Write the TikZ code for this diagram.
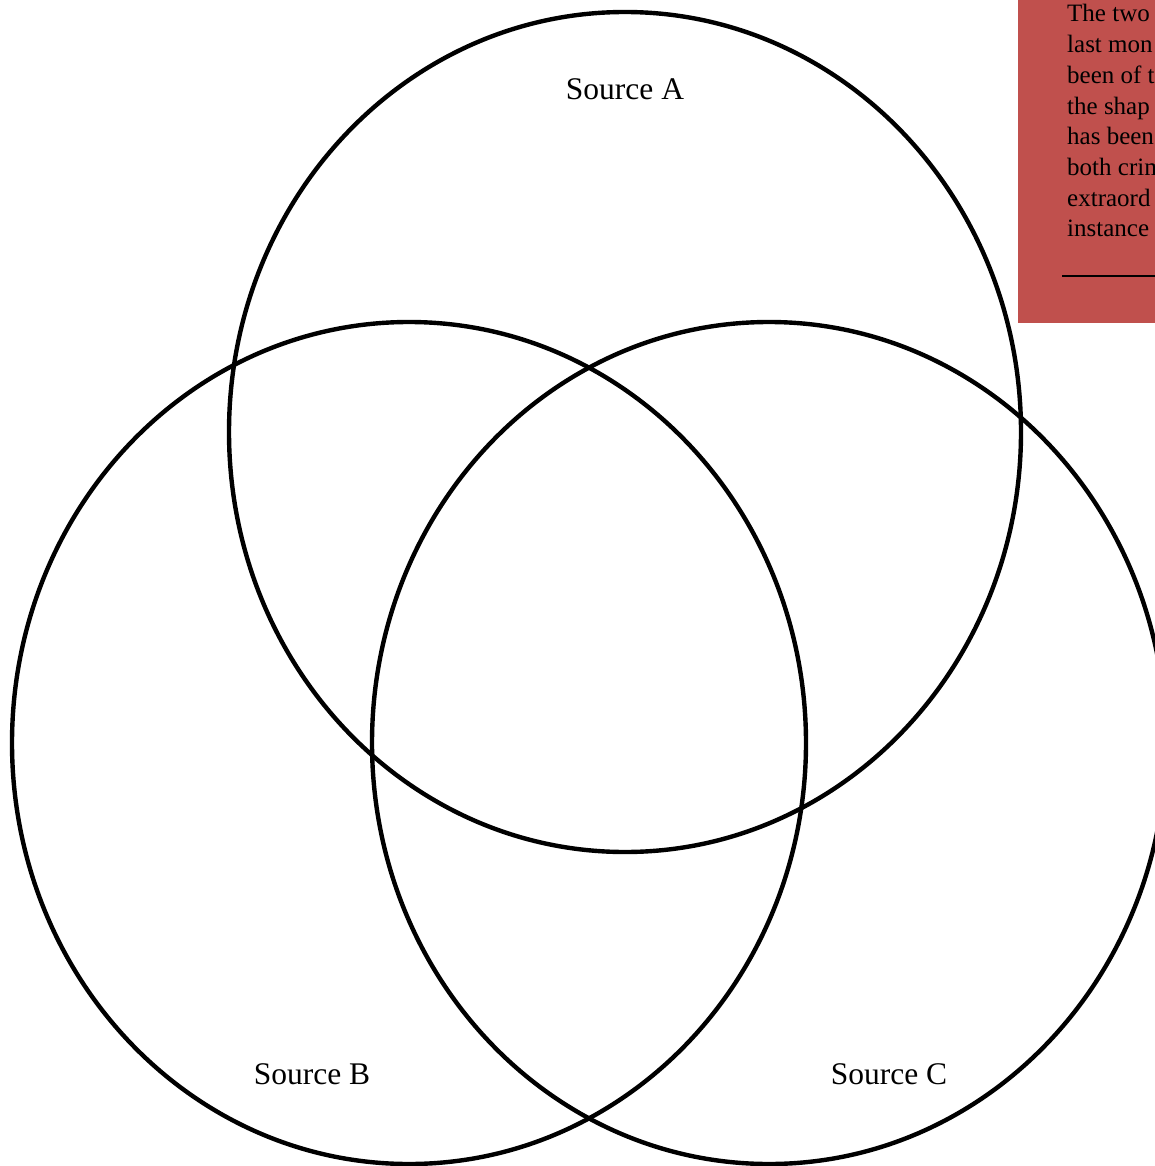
\documentclass[tikz,border=0pt]{standalone}
\usepackage{fontspec}
\setmainfont{Liberation Serif}
\usetikzlibrary{positioning}
\definecolor{boxred}{RGB}{192,80,77}

\begin{document}
\begin{tikzpicture}[x=1pt,y=-1pt,
  ring/.style={line width=4.4pt},
  srclabel/.style={anchor=base,inner sep=0,font=\fontsize{31.5}{36}\selectfont},
  boxline/.style={anchor=base west,inner sep=0,font=\fontsize{25}{30}\selectfont}]
\clip (0,0) rectangle (1155,1166);
% note box, cut off at the right edge
\fill[boxred] (1018,-5) rectangle (1170,323);
\foreach \txt [count=\i] in {The two,last mon,been of t,the shap,has been,both crim,extraord,instance}
  \node[boxline] (line\i) at (1067,{22+30.7*(\i-1)}) {\txt};
\coordinate (ruleL) at (1062,276);
\coordinate (ruleR) at (1170,276);
\draw[line width=1.5pt] (ruleL) -- (ruleR);
% the three sources
\draw[ring] (625,432) ellipse [x radius=396,y radius=420];
\draw[ring] (409,743) ellipse [x radius=397,y radius=421];
\draw[ring] (769,743) ellipse [x radius=397,y radius=421];
\node[srclabel] (srcA) at (625,100) {Source A};
\node[srclabel] (srcB) at (312,1084) {Source B};
\node[srclabel] (srcC) at (889,1084) {Source C};
\end{tikzpicture}
\end{document}
